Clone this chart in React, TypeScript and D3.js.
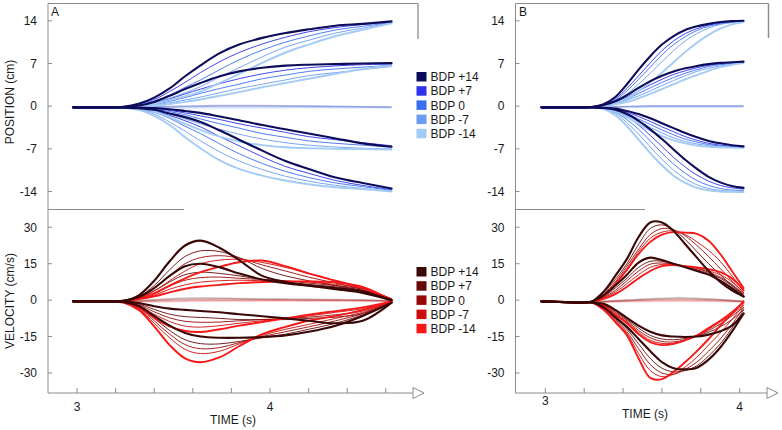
import React from 'react';
import * as d3 from 'd3';

// ---------- data ----------
const TIME_A = [2.98, 3.15, 3.24, 3.32, 3.40, 3.48, 3.56, 3.64, 3.74, 3.84, 3.96, 4.08, 4.20, 4.34, 4.48, 4.63];
const TIME_B = [2.98, 3.10, 3.18, 3.24, 3.30, 3.36, 3.42, 3.48, 3.54, 3.60, 3.66, 3.72, 3.78, 3.84, 3.90, 3.96, 4.02];

const BDP_LABELS = ['BDP +14', 'BDP +7', 'BDP 0', 'BDP -7', 'BDP -14'];
const BLUES = ['#0c0c5a', '#3030ee', '#3a6ef0', '#6b9cf0', '#a3cbf5'];
const REDS = ['#3a0606', '#660808', '#990808', '#cc0c0c', '#f81818'];

const POS_TICKS = [14, 7, 0, -7, -14];
const VEL_TICKS = [30, 15, 0, -15, -30];
const X_TICKS_A = [3, 3.2, 3.4, 3.6, 3.8, 4, 4.2, 4.4, 4.6];
const X_TICKS_B = [3, 3.2, 3.4, 3.6, 3.8, 4];
const X_LABELS = [3, 4];

// Panel A position, rows = BDP +14, +7, 0, -7, -14
const POS_A_T14 = [
  [-0.2, -0.2, -0.1, 0.4, 1.4, 2.9, 4.9, 6.7, 8.7, 10.1, 11.2, 12.0, 12.6, 13.2, 13.5, 13.9],
  [-0.2, -0.2, -0.1, 0.35, 1.1, 2.4, 3.9, 5.5, 7.3, 8.8, 10.2, 11.3, 12.2, 12.9, 13.4, 13.8],
  [-0.2, -0.2, -0.15, 0.3, 0.85, 1.8, 3.1, 4.3, 6.0, 7.6, 9.2, 10.5, 11.5, 12.5, 13.1, 13.7],
  [-0.2, -0.2, -0.15, 0.2, 0.6, 1.3, 2.2, 3.2, 4.8, 6.3, 8.1, 9.7, 10.8, 12.0, 12.8, 13.65],
  [-0.2, -0.2, -0.15, 0.15, 0.4, 1.0, 1.6, 2.4, 3.8, 5.3, 7.1, 8.8, 10.1, 11.5, 12.5, 13.6],
];
const POS_A_T7 = [
  [-0.2, -0.2, -0.15, 0.1, 0.7, 1.7, 2.8, 3.8, 4.9, 5.7, 6.3, 6.65, 6.8, 6.9, 7.0, 7.05],
  [-0.2, -0.2, -0.15, 0.05, 0.5, 1.2, 2.0, 2.8, 3.7, 4.5, 5.3, 5.9, 6.3, 6.6, 6.8, 6.9],
  [-0.2, -0.2, -0.15, 0.0, 0.3, 0.8, 1.4, 2.1, 2.9, 3.6, 4.5, 5.1, 5.7, 6.1, 6.4, 6.7],
  [-0.2, -0.2, -0.15, -0.05, 0.2, 0.55, 1.0, 1.5, 2.2, 2.9, 3.6, 4.3, 5.0, 5.5, 6.0, 6.5],
  [-0.2, -0.2, -0.15, -0.1, 0.1, 0.35, 0.7, 1.1, 1.7, 2.3, 3.1, 3.8, 4.5, 5.3, 6.1, 6.65],
];
const POS_A_T0 = [
  [-0.2, -0.2, -0.2, -0.15, -0.1, -0.05, 0, 0.05, 0.1, 0.1, 0.1, 0.05, 0, -0.05, -0.1, -0.15],
  [-0.2, -0.2, -0.2, -0.2, -0.15, -0.1, -0.05, 0, 0.05, 0.05, 0.05, 0, 0, -0.05, -0.1, -0.15],
  [-0.2, -0.2, -0.2, -0.2, -0.2, -0.15, -0.1, -0.1, -0.05, -0.05, -0.05, -0.05, -0.1, -0.1, -0.15, -0.2],
  [-0.2, -0.2, -0.2, -0.25, -0.25, -0.25, -0.25, -0.2, -0.2, -0.2, -0.2, -0.2, -0.2, -0.2, -0.2, -0.25],
  [-0.2, -0.2, -0.2, -0.25, -0.3, -0.35, -0.4, -0.4, -0.4, -0.4, -0.35, -0.35, -0.3, -0.3, -0.3, -0.3],
];
const POS_A_TM7 = [
  [-0.2, -0.2, -0.2, -0.25, -0.3, -0.5, -0.8, -1.1, -1.7, -2.3, -3.1, -3.8, -4.5, -5.3, -6.1, -6.65],
  [-0.2, -0.2, -0.2, -0.3, -0.4, -0.7, -1.1, -1.6, -2.2, -2.9, -3.6, -4.3, -5.0, -5.5, -6.0, -6.5],
  [-0.2, -0.2, -0.2, -0.3, -0.5, -0.9, -1.4, -2.1, -2.9, -3.6, -4.5, -5.1, -5.7, -6.1, -6.4, -6.7],
  [-0.2, -0.2, -0.25, -0.35, -0.7, -1.3, -2.1, -2.9, -3.8, -4.6, -5.4, -6.0, -6.4, -6.7, -6.9, -7.0],
  [-0.2, -0.2, -0.25, -0.4, -0.9, -1.8, -2.9, -3.9, -5.0, -5.8, -6.4, -6.75, -6.9, -7.0, -7.05, -7.1],
];
const POS_A_TM14 = [
  [-0.2, -0.2, -0.25, -0.35, -0.6, -1.2, -1.8, -2.6, -4.0, -5.5, -7.3, -9.0, -10.3, -11.7, -12.6, -13.5],
  [-0.2, -0.2, -0.25, -0.4, -0.8, -1.5, -2.4, -3.4, -5.0, -6.5, -8.3, -9.9, -11.0, -12.2, -13.0, -13.7],
  [-0.2, -0.2, -0.25, -0.5, -1.0, -2.0, -3.3, -4.5, -6.2, -7.8, -9.4, -10.7, -11.7, -12.6, -13.2, -13.8],
  [-0.2, -0.2, -0.3, -0.55, -1.3, -2.6, -4.1, -5.7, -7.5, -9.0, -10.4, -11.5, -12.3, -13.0, -13.5, -13.9],
  [-0.2, -0.2, -0.3, -0.6, -1.6, -3.1, -5.1, -6.9, -8.9, -10.3, -11.4, -12.2, -12.8, -13.3, -13.6, -14.0],
];

// Panel A velocity
const VEL_A_T14 = [
  [-0.5, -0.5, -0.3, 2, 8, 16, 22.5, 24.5, 21.5, 16.5, 10, 7.5, 6, 4.5, 3, 0],
  [-0.5, -0.5, -0.3, 1.5, 6, 12.5, 18, 20.3, 20, 17.5, 13, 10, 8, 6, 4, 0.5],
  [-0.5, -0.5, -0.3, 1.2, 4.8, 10, 15, 17.5, 18.3, 17.3, 14.5, 12, 9.5, 7, 4.5, 0.5],
  [-0.5, -0.5, -0.3, 1, 3.8, 8, 12, 15, 16.5, 16.8, 15.5, 13.5, 11, 8, 5, 0.5],
  [-0.5, -0.5, -0.3, 0.7, 2.8, 6, 9, 11.5, 13.8, 15.6, 16.3, 14, 11, 8, 5, 0],
];
const VEL_A_T7 = [
  [-0.5, -0.5, -0.3, 1.3, 5, 10, 14, 15, 13.5, 11, 8.5, 7, 6, 5, 3.5, 0],
  [-0.5, -0.5, -0.3, 1, 3.8, 7.5, 10.5, 11.5, 11, 10, 8.5, 7.5, 6.5, 5.5, 4, 0.5],
  [-0.5, -0.5, -0.3, 0.8, 2.8, 5.8, 8.2, 9.3, 9.5, 9, 8.5, 8, 7, 6, 4.5, 0.5],
  [-0.5, -0.5, -0.3, 0.6, 2.1, 4.5, 6.3, 7.4, 8, 8.2, 8, 7.8, 7.5, 6.5, 5, 0.5],
  [-0.5, -0.5, -0.3, 0.4, 1.6, 3.2, 4.7, 5.6, 6.3, 7, 7.5, 7.7, 7.7, 7.3, 5.5, 0],
];
const VEL_A_T0 = [
  [-0.5, -0.5, -0.4, -0.2, 0.2, 0.6, 0.9, 1, 0.9, 0.7, 0.5, 0.4, 0.3, 0.2, 0, -0.3],
  [-0.5, -0.5, -0.4, -0.3, 0, 0.3, 0.5, 0.6, 0.6, 0.5, 0.4, 0.3, 0.2, 0.1, 0, -0.3],
  [-0.5, -0.5, -0.4, -0.4, -0.2, 0, 0.1, 0.2, 0.2, 0.2, 0.1, 0.1, 0, 0, -0.1, -0.3],
  [-0.5, -0.5, -0.5, -0.5, -0.4, -0.3, -0.2, -0.1, -0.1, -0.1, -0.1, -0.1, -0.2, -0.2, -0.2, -0.3],
  [-0.5, -0.5, -0.5, -0.6, -0.7, -0.6, -0.5, -0.4, -0.3, -0.3, -0.3, -0.3, -0.3, -0.3, -0.3, -0.4],
];
const VEL_A_TM7 = [
  [-0.5, -0.5, -0.5, -1.2, -2.5, -3.5, -4, -4.5, -5, -5.8, -6.6, -7.5, -8.5, -9.5, -8.5, -1],
  [-0.5, -0.5, -0.6, -1.6, -3.8, -5.8, -6.8, -7.1, -7.5, -8, -8, -8, -7.5, -7, -5.5, -1],
  [-0.5, -0.5, -0.6, -2, -4.8, -7.3, -8.7, -9.1, -9, -8.5, -8, -7.5, -7, -6, -4.5, -0.5],
  [-0.5, -0.5, -0.7, -2.4, -5.8, -8.8, -10.7, -11.1, -10.5, -9.5, -8.5, -7.5, -6.5, -5, -3.5, -0.5],
  [-0.5, -0.5, -0.8, -3, -7.3, -10.8, -12.7, -13.1, -12, -10.5, -9, -7.5, -6, -4.5, -3, -0.5],
];
const VEL_A_TM14 = [
  [-0.5, -0.5, -0.7, -2.4, -6.5, -10.5, -13.5, -15, -15.5, -15.5, -15.2, -14.5, -13, -10.5, -6.5, -1],
  [-0.5, -0.5, -0.8, -2.8, -7.5, -12.5, -16.3, -17.9, -18, -17, -15.5, -14, -12, -9.5, -6, -0.5],
  [-0.5, -0.5, -0.8, -3.2, -8.5, -14, -18.3, -20, -19.5, -17.5, -15, -13, -11, -8.5, -5.5, -0.5],
  [-0.5, -0.5, -0.9, -3.5, -9.5, -15.5, -20.3, -22, -21, -18, -14.5, -12, -10, -7.5, -5, -0.5],
  [-0.5, -0.5, -1, -4, -10.8, -18.5, -24, -25.6, -23.5, -19, -14, -11, -8.5, -6.5, -4, -0.5],
];

// Panel B position
const POS_B_T14 = [
  [-0.2, -0.2, -0.2, -0.15, 0.3, 1.5, 3.6, 6.0, 8.2, 10.1, 11.5, 12.5, 13.1, 13.5, 13.8, 13.95, 14.0],
  [-0.2, -0.2, -0.2, -0.15, 0.25, 1.2, 2.9, 5.0, 7.1, 9.1, 10.7, 11.9, 12.7, 13.3, 13.6, 13.85, 13.95],
  [-0.2, -0.2, -0.2, -0.15, 0.2, 1.0, 2.5, 4.4, 6.4, 8.4, 10.1, 11.4, 12.4, 13.1, 13.5, 13.8, 13.9],
  [-0.2, -0.2, -0.2, -0.15, 0.15, 0.8, 2.0, 3.6, 5.4, 7.3, 9.1, 10.7, 11.9, 12.8, 13.4, 13.7, 13.85],
  [-0.2, -0.2, -0.2, -0.15, 0.05, 0.5, 1.3, 2.5, 3.9, 5.5, 7.2, 8.9, 10.4, 11.7, 12.7, 13.4, 13.8],
];
const POS_B_T7 = [
  [-0.2, -0.2, -0.2, -0.15, 0.2, 0.8, 1.8, 3.0, 4.1, 5.0, 5.7, 6.2, 6.6, 6.9, 7.1, 7.2, 7.3],
  [-0.2, -0.2, -0.2, -0.15, 0.15, 0.65, 1.5, 2.5, 3.5, 4.4, 5.2, 5.8, 6.3, 6.7, 6.95, 7.1, 7.2],
  [-0.2, -0.2, -0.2, -0.15, 0.1, 0.5, 1.2, 2.1, 3.0, 3.9, 4.7, 5.4, 6.0, 6.5, 6.8, 7.0, 7.15],
  [-0.2, -0.2, -0.2, -0.15, 0.05, 0.4, 1.0, 1.7, 2.5, 3.4, 4.2, 5.0, 5.7, 6.2, 6.6, 6.9, 7.1],
  [-0.2, -0.2, -0.2, -0.15, 0.0, 0.3, 0.7, 1.3, 2.0, 2.8, 3.6, 4.4, 5.1, 5.8, 6.4, 6.8, 7.05],
];
const POS_B_T0 = [
  [-0.2, -0.2, -0.2, -0.2, -0.15, -0.1, -0.05, 0, 0.05, 0.05, 0.05, 0.05, 0.05, 0.05, 0.05, 0.05, 0.05],
  [-0.2, -0.2, -0.2, -0.2, -0.15, -0.1, -0.05, -0.05, 0, 0, 0, 0, 0, 0, 0, 0, 0],
  [-0.2, -0.2, -0.2, -0.2, -0.2, -0.15, -0.1, -0.1, -0.05, -0.05, -0.05, -0.05, -0.05, -0.05, -0.05, -0.05, -0.05],
  [-0.2, -0.2, -0.2, -0.2, -0.2, -0.2, -0.15, -0.15, -0.1, -0.1, -0.1, -0.1, -0.1, -0.1, -0.1, -0.1, -0.1],
  [-0.2, -0.2, -0.2, -0.2, -0.25, -0.25, -0.2, -0.2, -0.15, -0.15, -0.15, -0.15, -0.15, -0.15, -0.15, -0.15, -0.15],
];
const POS_B_TM7 = [
  [-0.2, -0.2, -0.2, -0.2, -0.25, -0.4, -0.8, -1.3, -2.0, -2.8, -3.6, -4.4, -5.1, -5.7, -6.1, -6.4, -6.6],
  [-0.2, -0.2, -0.2, -0.2, -0.3, -0.5, -1.0, -1.7, -2.5, -3.4, -4.2, -5.0, -5.6, -6.1, -6.4, -6.6, -6.7],
  [-0.2, -0.2, -0.2, -0.2, -0.3, -0.6, -1.2, -2.1, -3.0, -3.9, -4.7, -5.4, -5.9, -6.3, -6.55, -6.7, -6.75],
  [-0.2, -0.2, -0.2, -0.2, -0.35, -0.7, -1.5, -2.5, -3.5, -4.4, -5.2, -5.8, -6.2, -6.5, -6.7, -6.8, -6.8],
  [-0.2, -0.2, -0.2, -0.2, -0.4, -0.9, -1.8, -2.9, -4.0, -4.9, -5.6, -6.1, -6.45, -6.65, -6.75, -6.8, -6.85],
];
const POS_B_TM14 = [
  [-0.2, -0.2, -0.2, -0.2, -0.3, -0.6, -1.3, -2.4, -3.8, -5.4, -7.1, -8.8, -10.3, -11.6, -12.5, -13.1, -13.4],
  [-0.2, -0.2, -0.2, -0.2, -0.35, -0.8, -1.7, -3.1, -4.8, -6.6, -8.4, -10.0, -11.3, -12.3, -13.0, -13.4, -13.6],
  [-0.2, -0.2, -0.2, -0.2, -0.4, -1.0, -2.2, -3.8, -5.7, -7.7, -9.5, -11.0, -12.2, -13.0, -13.5, -13.75, -13.85],
  [-0.2, -0.2, -0.2, -0.2, -0.45, -1.2, -2.7, -4.6, -6.7, -8.7, -10.5, -11.9, -12.9, -13.5, -13.8, -13.95, -14.0],
  [-0.2, -0.2, -0.2, -0.2, -0.5, -1.5, -3.3, -5.5, -7.7, -9.7, -11.4, -12.6, -13.4, -13.8, -14.0, -14.05, -14.1],
];

// Panel B velocity
const VEL_B_T14 = [
  [-0.5, -0.8, -1, -0.5, 3.5, 10, 17, 26, 32, 32, 28.5, 23, 17.5, 12, 7.5, 4, 1.5],
  [-0.5, -0.8, -1, -0.6, 3, 8.5, 15, 23, 29.5, 31, 29, 25, 20, 15, 10.5, 6, 2.5],
  [-0.5, -0.8, -1, -0.6, 2.5, 7.5, 14, 21, 27, 29.5, 29, 26.5, 22.5, 18, 13, 8, 3],
  [-0.5, -0.8, -1, -0.7, 2, 7, 13, 20, 25.5, 28, 28.5, 27, 24, 20.5, 16, 10, 4],
  [-0.5, -0.8, -1, -0.7, 1.5, 6.5, 12.5, 19, 24, 27, 28, 27.8, 27.3, 24.5, 19, 12, 5],
];
const VEL_B_T7 = [
  [-0.5, -0.8, -1, -0.6, 2, 6, 10.5, 15.5, 17.5, 16.5, 15, 13.5, 12, 10.5, 8, 5, 1.5],
  [-0.5, -0.8, -1, -0.6, 1.5, 5, 9, 13.5, 16, 16, 15, 13.8, 12.5, 11, 9, 6, 2],
  [-0.5, -0.8, -1, -0.6, 1.2, 4, 8, 12, 14.8, 15.3, 14.8, 14, 13, 11.5, 9.5, 6.5, 2.5],
  [-0.5, -0.8, -1, -0.7, 1, 3.3, 6.8, 10.5, 13.5, 14.7, 14.6, 14, 13.2, 12, 10.5, 7.5, 3],
  [-0.5, -0.8, -1, -0.7, 0.5, 2.5, 5.5, 9, 12, 14, 14.5, 14, 13.5, 12.8, 11.5, 9, 4],
];
const VEL_B_T0 = [
  [-0.5, -0.8, -1, -0.8, -0.5, -0.2, 0, 0.3, 0.6, 0.8, 1, 1, 0.8, 0.5, 0.2, -0.2, -0.5],
  [-0.5, -0.8, -1, -0.8, -0.5, -0.3, -0.1, 0.1, 0.3, 0.5, 0.6, 0.6, 0.5, 0.3, 0.1, -0.2, -0.5],
  [-0.5, -0.8, -1, -0.8, -0.6, -0.4, -0.2, 0, 0.1, 0.2, 0.3, 0.3, 0.2, 0.1, 0, -0.2, -0.5],
  [-0.5, -0.8, -1, -0.9, -0.7, -0.5, -0.4, -0.3, -0.2, -0.1, -0.1, -0.1, -0.1, -0.2, -0.3, -0.4, -0.6],
  [-0.5, -0.8, -1, -0.9, -0.8, -0.7, -0.6, -0.5, -0.5, -0.4, -0.4, -0.4, -0.4, -0.4, -0.5, -0.6, -0.7],
];
const VEL_B_TM7 = [
  [-0.5, -0.8, -1, -1, -1.5, -4, -7.3, -10.5, -13, -14.5, -15, -15.2, -15, -14.2, -12.8, -10.5, -5.5],
  [-0.5, -0.8, -1, -1, -1.8, -4.5, -8, -11.5, -14.5, -16, -16.3, -15.8, -14.8, -13.2, -11, -8, -4],
  [-0.5, -0.8, -1, -1, -2, -5, -8.5, -12.5, -15.5, -17, -17.2, -16.3, -14.7, -12.5, -9.8, -6.5, -3],
  [-0.5, -0.8, -1, -1, -2.2, -5.5, -9, -13.2, -16.5, -17.8, -17.7, -16.5, -14.6, -12, -9, -5.8, -2],
  [-0.5, -0.8, -1, -1, -2.5, -6, -9.5, -14, -17.3, -18.5, -18, -16.5, -14.5, -11.5, -8.5, -5, -1],
];
const VEL_B_TM14 = [
  [-0.5, -0.8, -1, -1, -3, -7, -11, -16, -21, -25.5, -28, -28.5, -27.8, -24.5, -19.5, -13, -5.5],
  [-0.5, -0.8, -1, -1, -3.2, -7.5, -12, -18, -24, -28, -29.5, -29, -27, -23, -18, -11.5, -4],
  [-0.5, -0.8, -1, -1, -3.5, -8, -13, -20, -26.5, -30, -30.5, -28.5, -25.5, -21, -16, -10, -3],
  [-0.5, -0.8, -1, -1, -3.7, -8.5, -13.7, -22, -29, -31.5, -30.5, -27.5, -23.5, -18.5, -13.5, -8, -2],
  [-0.5, -0.8, -1, -1, -4, -9, -14.5, -24, -32, -32.5, -29.5, -25.5, -21, -16, -10.5, -5.5, -0.5],
];

// ---------- drawing ----------
const FONT = '"Liberation Sans", Arial, Helvetica, sans-serif';
const AXIS = '#8c8c8c';
const TXT = '#1a1a1a';

type Group = number[][];

function Traces({ time, groups, x, y, colors, keyp }: { time: number[]; groups: Group[]; x: any; y: any; colors: string[]; keyp: string }) {
  const line = d3
    .line<number>()
    .x((_, i) => x(time[i]))
    .y((d) => y(d))
    .curve(d3.curveCatmullRom.alpha(0.5));
  const out: React.ReactNode[] = [];
  const zero = groups[2];
  zero.forEach((s, bi) => {
    out.push(
      <path key={`${keyp}-z-${bi}`} d={line(s) || ''} fill="none" stroke={colors[bi]} strokeOpacity={0.2} strokeWidth={1.6} />
    );
  });
  const order = [1, 2, 3, 4, 0];
  const others = [0, 1, 3, 4];
  order.forEach((bi) => {
    others.forEach((gi) => {
      const s = groups[gi][bi];
      const w = bi === 0 ? 2.1 : bi === 4 ? 1.9 : 0.9;
      out.push(
        <path key={`${keyp}-${gi}-${bi}`} d={line(s) || ''} fill="none" stroke={colors[bi]} strokeWidth={w} strokeLinejoin="round" strokeLinecap="round" />
      );
    });
  });
  return <g>{out}</g>;
}

function Legend({ x, y0, colors }: { x: number; y0: number; colors: string[] }) {
  return (
    <g>
      {BDP_LABELS.map((lab, i) => (
        <g key={lab} transform={`translate(${x},${y0 + i * 14.2})`}>
          <rect x={0} y={-5} width={10} height={9.5} fill={colors[i]} />
          <text x={14} y={0} dy="0.35em" fontSize={12} fontFamily={FONT} fill={TXT}>
            {lab}
          </text>
        </g>
      ))}
    </g>
  );
}

export default function App() {
  const xA = d3.scaleLinear().domain([3, 4]).range([77, 270]);
  const xB = d3.scaleLinear().domain([3, 4]).range([545.3, 739.7]);
  const yP = d3.scaleLinear().domain([-14, 14]).range([191.5, 20.8]);
  const yV = d3.scaleLinear().domain([-30, 30]).range([373, 227.3]);

  const axisY = 393;
  const leftA = 48;
  const leftB = 515.5;

  const arrow = (xs: number) => `M${xs},${axisY - 5.5} L${xs + 11},${axisY} L${xs},${axisY + 5.5} Z`;

  const yTickLabels = (left: number, ticks: number[], scale: any, key: string) =>
    ticks.map((t) => (
      <g key={`${key}-${t}`}>
        <line x1={left} x2={left + 4} y1={scale(t)} y2={scale(t)} stroke={AXIS} strokeWidth={1} />
        <text x={left - 11} y={scale(t)} dy="0.35em" textAnchor="end" fontSize={12} fontFamily={FONT} fill={TXT}>
          {t}
        </text>
      </g>
    ));

  return (
    <svg width={782} height={430} style={{ position: 'absolute', left: 0, top: 0, background: '#fff' }}>
      <rect width={782} height={430} fill="#fff" />

      {/* Panel A frame */}
      <line x1={leftA} x2={leftA} y1={3.5} y2={axisY} stroke={AXIS} />
      <line x1={leftA} x2={418} y1={3.5} y2={3.5} stroke={AXIS} />
      <line x1={418} x2={418} y1={3.5} y2={39} stroke={AXIS} strokeWidth={1.3} />
      <line x1={leftA} x2={184} y1={209.5} y2={209.5} stroke={AXIS} />
      <line x1={leftA} x2={413} y1={axisY} y2={axisY} stroke={AXIS} />
      <path d={arrow(413)} fill="#fff" stroke={AXIS} />
      {X_TICKS_A.map((t) => (
        <line key={`xa-${t}`} x1={xA(t)} x2={xA(t)} y1={axisY} y2={axisY - 5} stroke={AXIS} />
      ))}

      {/* Panel B frame */}
      <line x1={leftB} x2={leftB} y1={3.5} y2={axisY} stroke={AXIS} />
      <line x1={leftB} x2={768.5} y1={3.5} y2={3.5} stroke={AXIS} />
      <line x1={768.5} x2={768.5} y1={3.5} y2={38} stroke={AXIS} strokeWidth={1.5} />
      <line x1={leftB} x2={645} y1={209.5} y2={209.5} stroke={AXIS} />
      <line x1={leftB} x2={767} y1={axisY} y2={axisY} stroke={AXIS} />
      <path d={arrow(767)} fill="#fff" stroke={AXIS} />
      {X_TICKS_B.map((t) => (
        <line key={`xb-${t}`} x1={xB(t)} x2={xB(t)} y1={axisY} y2={axisY - 5} stroke={AXIS} />
      ))}

      {/* y tick labels */}
      {yTickLabels(leftA, POS_TICKS, yP, 'pa')}
      {yTickLabels(leftA, VEL_TICKS, yV, 'va')}
      {yTickLabels(leftB, POS_TICKS, yP, 'pb')}
      {yTickLabels(leftB, VEL_TICKS, yV, 'vb')}

      {/* x labels */}
      {X_LABELS.map((t) => (
        <text key={`xla-${t}`} x={xA(t)} y={411} textAnchor="middle" fontSize={12} fontFamily={FONT} fill={TXT}>
          {t}
        </text>
      ))}
      {X_LABELS.map((t) => (
        <text key={`xlb-${t}`} x={xB(t)} y={t === 3 ? 405 : 411} textAnchor="middle" fontSize={12} fontFamily={FONT} fill={TXT}>
          {t}
        </text>
      ))}
      <text x={233} y={424} textAnchor="middle" fontSize={12} fontFamily={FONT} fill={TXT}>TIME (s)</text>
      <text x={645} y={418} textAnchor="middle" fontSize={12} fontFamily={FONT} fill={TXT}>TIME (s)</text>

      {/* axis titles */}
      <text transform="translate(14,102) rotate(-90)" textAnchor="middle" fontSize={12} fontFamily={FONT} fill={TXT}>POSITION (cm)</text>
      <text transform="translate(14,301) rotate(-90)" textAnchor="middle" fontSize={12} fontFamily={FONT} fill={TXT}>VELOCITY (cm/s)</text>

      {/* panel letters */}
      <text x={51} y={16} fontSize={12} fontFamily={FONT} fill={TXT}>A</text>
      <text x={519} y={16} fontSize={12} fontFamily={FONT} fill={TXT}>B</text>

      {/* traces */}
      <Traces keyp="pa" time={TIME_A} groups={[POS_A_T14, POS_A_T7, POS_A_T0, POS_A_TM7, POS_A_TM14]} x={xA} y={yP} colors={BLUES} />
      <Traces keyp="va" time={TIME_A} groups={[VEL_A_T14, VEL_A_T7, VEL_A_T0, VEL_A_TM7, VEL_A_TM14]} x={xA} y={yV} colors={REDS} />
      <Traces keyp="pb" time={TIME_B} groups={[POS_B_T14, POS_B_T7, POS_B_T0, POS_B_TM7, POS_B_TM14]} x={xB} y={yP} colors={BLUES} />
      <Traces keyp="vb" time={TIME_B} groups={[VEL_B_T14, VEL_B_T7, VEL_B_T0, VEL_B_TM7, VEL_B_TM14]} x={xB} y={yV} colors={REDS} />

      {/* legends */}
      <Legend x={416.5} y0={77} colors={BLUES} />
      <Legend x={416.5} y0={272} colors={REDS} />
    </svg>
  );
}
